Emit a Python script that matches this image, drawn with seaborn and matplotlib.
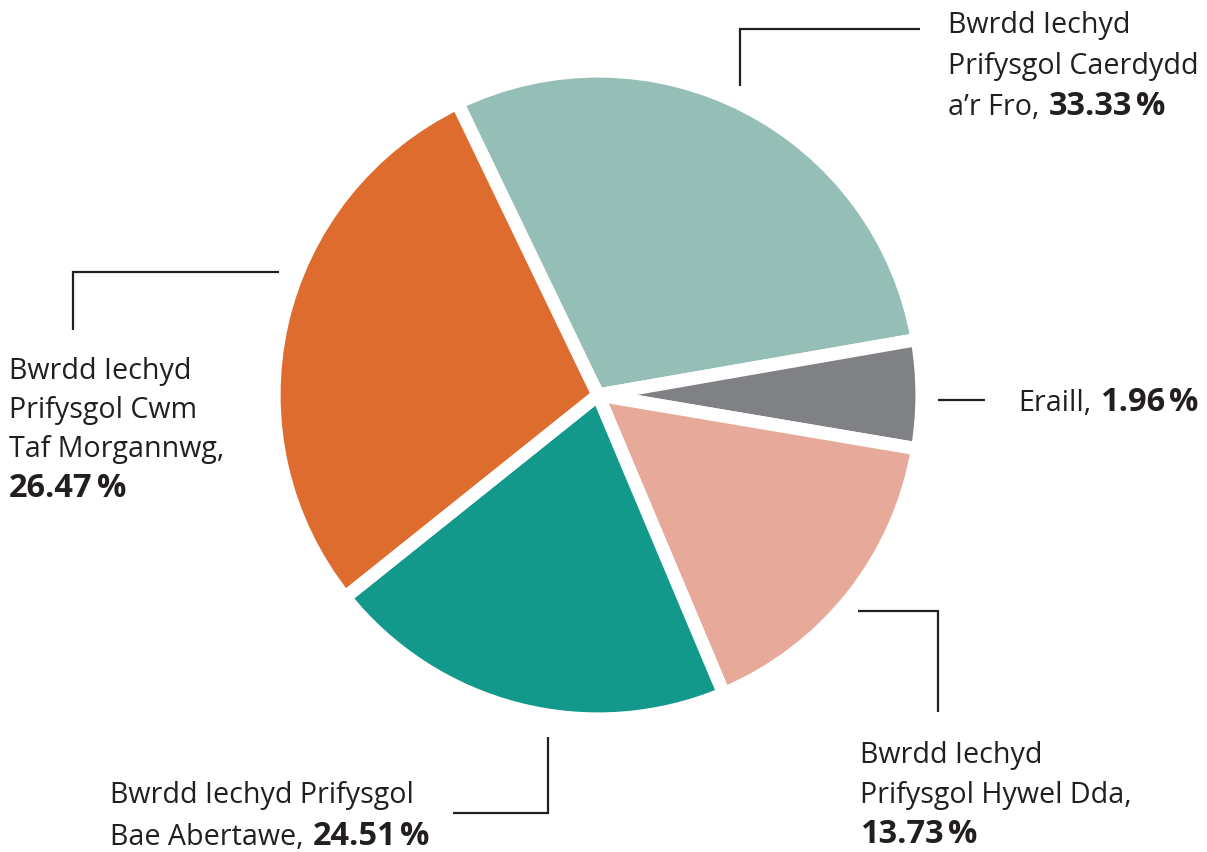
import matplotlib
matplotlib.use("Agg")
import matplotlib.pyplot as plt
import seaborn as sns

sns.set_theme(style="white")
plt.rcParams['font.family'] = ['Open Sans', 'DejaVu Sans']

# ---- data ----
board_names = [
    "Bwrdd Iechyd Prifysgol Caerdydd a’r Fro",
    "Eraill",
    "Bwrdd Iechyd Prifysgol Hywel Dda",
    "Bwrdd Iechyd Prifysgol Bae Abertawe",
    "Bwrdd Iechyd Prifysgol Cwm Taf Morgannwg",
]
label_pcts = ["33.33%", "1.96%", "13.73%", "24.51%", "26.47%"]
# slice sizes as drawn in the picture (share of the circle, %)
slice_shares = [29.4, 5.4, 16.0, 20.6, 28.6]
slice_colors = ["#95BEB6", "#808184", "#E6A99A", "#13998C", "#DE6C2F"]

# label text lines (normal part, bold part)
label_lines = [
    [("Bwrdd Iechyd", ""), ("Prifysgol Caerdydd", ""), ("a’r Fro,", label_pcts[0])],
    [("Eraill,", label_pcts[1])],
    [("Bwrdd Iechyd", ""), ("Prifysgol Hywel Dda,", ""), ("", label_pcts[2])],
    [("Bwrdd Iechyd Prifysgol", ""), ("Bae Abertawe,", label_pcts[3])],
    [("Bwrdd Iechyd", ""), ("Prifysgol Cwm", ""), ("Taf Morgannwg,", ""), ("", label_pcts[4])],
]

# ---- layout (pixel coords, y measured from top) ----
W, H = 1207, 852
TXT = "#231F20"
FS = 20.6
FSB = 23.5

label_pos = [
    (948, [33, 74, 115]),
    (1018, [411]),
    (860, [763, 803, 843]),
    (110, [803, 845]),
    (9, [379, 418, 457, 497]),
]
leaders = [
    [(740, 86), (740, 29), (920, 29)],
    [(938, 400), (985, 400)],
    [(858, 611), (938, 611), (938, 712)],
    [(548, 737), (548, 813), (453, 813)],
    [(279, 272), (73, 272), (73, 330)],
]

fig = plt.figure(figsize=(W / 100, H / 100), dpi=100)
fig.patch.set_facecolor("white")
ax = fig.add_axes([0, 0, 1, 1])

ax.pie(slice_shares, colors=slice_colors, startangle=115.7, counterclock=False,
       center=(598, H - 395), radius=324,
       wedgeprops=dict(edgecolor="white", linewidth=9.5))
ax.set_aspect("auto")
ax.set_xlim(0, W)
ax.set_ylim(0, H)
ax.axis("off")

for pts in leaders:
    xs = [p[0] for p in pts]
    ys = [H - p[1] for p in pts]
    ax.plot(xs, ys, color=TXT, lw=1.6, solid_capstyle="butt", solid_joinstyle="miter")

renderer = fig.canvas.get_renderer()
inv = ax.transData.inverted()


def right_edge(t):
    bb = t.get_window_extent(renderer=renderer)
    return inv.transform((bb.x1, 0))[0]


for (x0, bases), lines in zip(label_pos, label_lines):
    for yb, (normal, bold) in zip(bases, lines):
        xb = x0
        if normal:
            t = ax.text(x0, H - yb, normal, fontsize=FS, color=TXT,
                        ha="left", va="baseline")
            xb = right_edge(t) + 9
        if bold:
            num, pct = bold[:-1], bold[-1]
            tn = ax.text(xb, H - yb, num, fontsize=FSB, color=TXT, fontweight="bold",
                         ha="left", va="baseline")
            ax.text(right_edge(tn) + 4, H - yb, pct, fontsize=FSB, color=TXT,
                    fontweight="bold", ha="left", va="baseline")

fig.savefig("out.png", dpi=100, facecolor="white")
